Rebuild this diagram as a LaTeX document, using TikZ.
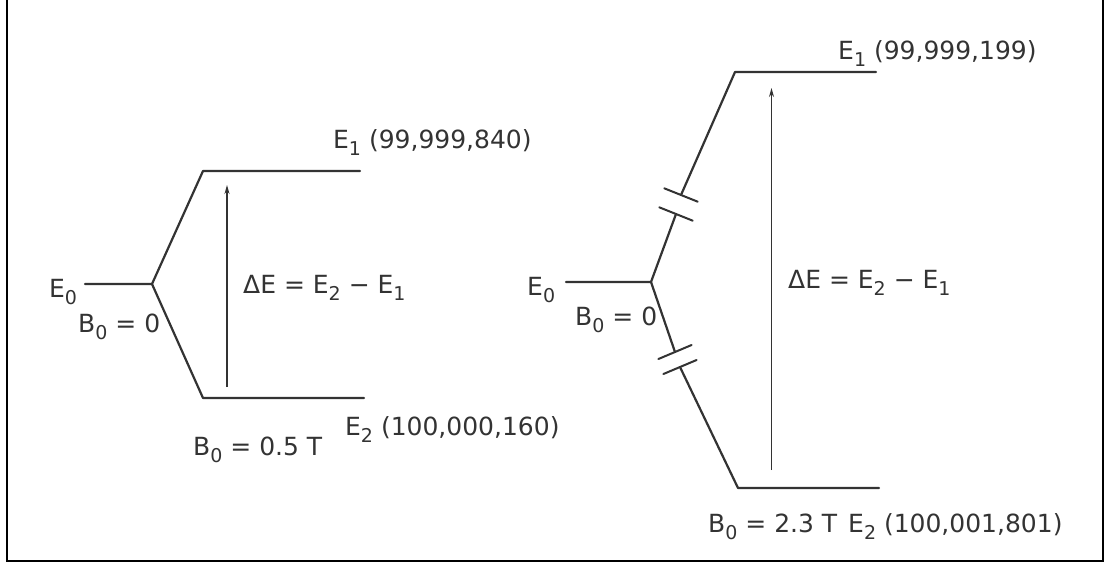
\documentclass[tikz,border=0pt]{standalone}
\usepackage{fontspec}
\setmainfont{DejaVu Sans}
\usetikzlibrary{arrows.meta}
\newcommand\sbs[1]{\raisebox{-7pt}{\fontsize{19}{20}\selectfont #1}}
\tikzset{
  lvl/.style={line width=2.2pt, draw=black!80, line cap=round, line join=round},
  tick/.style={line width=2pt, draw=black!80, line cap=round},
  trans/.style={line width=1.2pt, draw=black!80, -{Stealth[length=9pt,width=5pt]}},
  lbl/.style={anchor=base west, inner sep=0pt, text=black!80, font=\fontsize{25}{30}\selectfont},
  frame/.style={line width=2.5pt, draw=black}
}
\begin{document}
\begin{tikzpicture}[x=1pt,y=-1pt]
\useasboundingbox (0,0) rectangle (1109,566);
\draw[frame] (7,-10) -- (7,561) -- (1103,561) -- (1103,-10);

% ---------- left diagram ----------
\coordinate (L0a) at (85,284);
\coordinate (LJ) at (152,284);
\coordinate (L1a) at (203,171);
\coordinate (L1b) at (360,171);
\coordinate (L2a) at (203,398);
\coordinate (L2b) at (364,398);
\coordinate (LAbot) at (227,387);
\coordinate (LAtop) at (227,185);
\draw[lvl] (L0a) -- (LJ) -- (L1a) -- (L1b);
\draw[lvl] (LJ) -- (L2a) -- (L2b);
\draw[trans] (LAbot) -- (LAtop);

\node[lbl] (lE0) at (49,297) {E\sbs{0}};
\node[lbl] (lB0) at (78,332) {B\sbs{0} = 0};
\node[lbl] (lDE) at (243,293) {ΔE = E\sbs{2} − E\sbs{1}};
\node[lbl] (lE1) at (333,148) {E\sbs{1} (99,999,840)};
\node[lbl] (lE2) at (345,435) {E\sbs{2} (100,000,160)};
\node[lbl] (lBT) at (193,455) {B\sbs{0} = 0.5 T};

% ---------- right diagram ----------
\coordinate (R0a) at (566,282);
\coordinate (RJ) at (651,282);
\coordinate (RU1) at (676,214);
\coordinate (RU2) at (681,195);
\coordinate (R1a) at (735,72);
\coordinate (R1b) at (876,72);
\coordinate (RD1) at (675,352);
\coordinate (RD2) at (680,367);
\coordinate (R2a) at (738,488);
\coordinate (R2b) at (879,488);
\coordinate (RAbot) at (771.5,470);
\coordinate (RAtop) at (771.5,88);

\draw[lvl] (R0a) -- (RJ) -- (RU1);
\draw[lvl] (RU2) -- (R1a) -- (R1b);
\draw[lvl] (RJ) -- (RD1);
\draw[lvl] (RD2) -- (R2a) -- (R2b);
% break marks
\draw[tick] ([shift={(-16.7,-6.7)}]RU1) -- ([shift={(16.7,6.7)}]RU1);
\draw[tick] ([shift={(-16.7,-6.7)}]RU2) -- ([shift={(16.7,6.7)}]RU2);
\draw[tick] ([shift={(-16.6,7)}]RD1) -- ([shift={(16.6,-7)}]RD1);
\draw[tick] ([shift={(-16.6,7)}]RD2) -- ([shift={(16.6,-7)}]RD2);
\draw[trans] (RAbot) -- (RAtop);

\node[lbl] (rE0) at (527,295) {E\sbs{0}};
\node[lbl] (rB0) at (575,325) {B\sbs{0} = 0};
\node[lbl] (rDE) at (788,288) {ΔE = E\sbs{2} − E\sbs{1}};
\node[lbl] (rE1) at (838,59) {E\sbs{1} (99,999,199)};
\node[lbl] (rBT) at (708,532) {B\sbs{0} = 2.3 T};
\node[lbl] (rE2) at (848,532) {E\sbs{2} (100,001,801)};
\end{tikzpicture}
\end{document}
